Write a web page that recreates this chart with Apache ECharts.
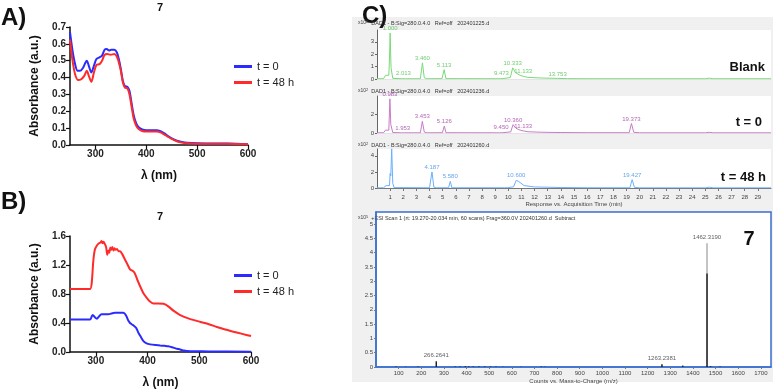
<!DOCTYPE html>
<html>
<head>
<meta charset="utf-8">
<script src="https://cdn.jsdelivr.net/npm/echarts@6/dist/echarts.min.js"></script>
<style>
  html, body { margin: 0; padding: 0; background: #fff; }
  #wrap { position: relative; width: 773px; height: 390px; }
  #panelC { position: absolute; left: 352px; top: 17px; width: 421px; height: 365px; background: #f0f0f0; }
  #main { position: absolute; left: 0; top: 0; width: 773px; height: 390px; }
</style>
</head>
<body>
<div id="wrap">
  <div id="panelC"></div>
  <div id="main"></div>
</div>
<script>
// ---- UV-Vis, panel A (wavelength nm, absorbance) ----
var uvA_t0 = [[250,0.67],[255,0.56],[260,0.48],[265,0.44],[270,0.44],[276,0.46],[283,0.50],[287,0.47],[292,0.43],[297,0.47],[302,0.51],[308,0.52],[313,0.53],[318,0.565],[322,0.57],[327,0.56],[331,0.565],[337,0.565],[342,0.55],[346,0.51],[350,0.45],[354,0.38],[358,0.35],[363,0.345],[367,0.32],[371,0.25],[375,0.18],[380,0.13],[385,0.105],[392,0.092],[400,0.088],[410,0.088],[420,0.088],[428,0.082],[435,0.07],[442,0.055],[450,0.04],[460,0.026],[470,0.018],[480,0.013],[500,0.01],[540,0.009],[560,0.009],[600,0.005]];
var uvA_t48 = [[250,0.625],[255,0.50],[260,0.42],[266,0.385],[272,0.39],[278,0.41],[283,0.44],[287,0.41],[292,0.375],[297,0.43],[302,0.475],[308,0.48],[313,0.5],[318,0.535],[323,0.54],[330,0.535],[337,0.54],[342,0.525],[346,0.49],[350,0.44],[354,0.37],[358,0.34],[363,0.335],[367,0.30],[371,0.23],[375,0.16],[380,0.115],[385,0.095],[392,0.083],[400,0.08],[410,0.08],[420,0.08],[428,0.075],[435,0.063],[442,0.05],[450,0.036],[460,0.022],[470,0.014],[480,0.01],[500,0.008],[560,0.007],[600,0.004]];

// ---- UV-Vis, panel B ----
var uvB_t0 = [[250,0.45],[270,0.45],[289,0.45],[292,0.49],[294,0.51],[298,0.48],[302,0.46],[306,0.49],[311,0.52],[318,0.52],[324,0.52],[330,0.53],[337,0.54],[345,0.54],[353,0.54],[357,0.52],[360,0.48],[363,0.43],[366,0.40],[370,0.38],[374,0.36],[378,0.33],[382,0.27],[386,0.22],[392,0.15],[398,0.12],[405,0.105],[415,0.095],[424,0.09],[433,0.085],[440,0.08],[450,0.06],[457,0.045],[463,0.035],[470,0.02],[476,0.014],[490,0.01],[520,0.008],[600,0.005]];
var uvB_t48 = [[250,0.87],[270,0.87],[289,0.87],[292,0.95],[295,1.25],[298,1.41],[302,1.47],[306,1.50],[309,1.51],[311,1.53],[313,1.50],[315,1.52],[318,1.48],[320,1.44],[322,1.34],[324,1.40],[326,1.37],[328,1.44],[330,1.41],[332,1.45],[334,1.40],[336,1.43],[338,1.41],[341,1.42],[344,1.39],[347,1.39],[351,1.35],[356,1.28],[361,1.21],[366,1.14],[371,1.12],[375,1.09],[380,1.00],[386,0.90],[392,0.81],[398,0.75],[404,0.70],[411,0.67],[420,0.67],[431,0.665],[440,0.63],[450,0.57],[463,0.51],[480,0.46],[502,0.415],[520,0.38],[534,0.345],[550,0.31],[566,0.28],[583,0.25],[600,0.22]];

// ---- HPLC chromatograms (time min, response x10^2) ----
var chromBlank = [[0,0.02],[0.5,0.03],[0.65,0.3],[0.8,0.22],[0.9,0.3],[0.95,1.6],[1.0,3.7],[1.07,0.9],[1.2,0.05],[1.9,0.02],[2.013,0.06],[2.15,0.02],[3.3,0.02],[3.46,1.3],[3.6,0.1],[3.8,0.02],[4.95,0.03],[5.113,0.75],[5.25,0.03],[9.35,0.02],[9.473,0.12],[9.6,0.03],[10.15,0.12],[10.333,0.9],[10.55,0.5],[10.9,0.3],[11.133,0.22],[11.5,0.13],[12.5,0.08],[13.753,0.05],[14.5,0.03],[16,0.02],[25,0.02],[25.3,0.07],[25.6,0.02],[30,0.02]];
var chromT0 = [[0,0.02],[0.5,0.03],[0.65,0.3],[0.8,0.22],[0.9,0.3],[0.93,1.5],[0.983,3.6],[1.05,0.9],[1.2,0.05],[1.85,0.02],[1.953,0.05],[2.1,0.02],[3.3,0.02],[3.453,1.23],[3.6,0.1],[3.8,0.02],[4.98,0.03],[5.126,0.74],[5.25,0.03],[9.33,0.02],[9.45,0.12],[9.58,0.03],[10.18,0.12],[10.36,0.88],[10.58,0.5],[10.9,0.3],[11.133,0.22],[11.5,0.13],[12.5,0.08],[14,0.05],[16,0.03],[19.2,0.03],[19.373,1.0],[19.55,0.08],[20,0.02],[25,0.02],[25.3,0.07],[25.6,0.02],[30,0.02]];
var chromT48 = [[0,0.02],[0.5,0.03],[0.7,0.3],[0.85,0.15],[0.95,0.3],[1.0,1.8],[1.05,1.5],[1.12,4.9],[1.2,0.6],[1.3,0.05],[4.0,0.03],[4.187,2.0],[4.33,0.1],[4.5,0.03],[5.45,0.03],[5.58,0.83],[5.7,0.03],[9.7,0.03],[9.8,0.12],[9.95,0.04],[10.4,0.15],[10.6,0.96],[10.8,0.8],[11.2,0.3],[12,0.13],[14,0.06],[16,0.03],[19.25,0.03],[19.427,1.04],[19.6,0.08],[20,0.02],[25,0.02],[25.3,0.1],[25.6,0.02],[30,0.02]];

var peaksBlankT = [1.000, 2.013, 3.460, 5.113, 9.473, 10.333, 11.133, 13.753];
var peaksBlankH = [3.7, 0.06, 1.3, 0.75, 0.12, 0.9, 0.22, 0.05];
var peaksT0T = [0.983, 1.953, 3.453, 5.126, 9.450, 10.360, 11.133, 19.373];
var peaksT0H = [3.6, 0.05, 1.23, 0.74, 0.12, 0.88, 0.22, 1.0];
var peaksT48T = [1.120, 4.187, 5.580, 10.600, 19.427];
var peaksT48H = [4.9, 2.0, 0.83, 0.96, 1.04];

// ---- ESI mass spectrum (m/z, counts x10^5) ----
var msMz = [88, 130, 185, 266.2641, 350, 372, 395, 410, 430, 455, 480, 505, 530, 560, 640, 730, 745, 1263.2381, 1355, 1462.3190, 1478, 1520];
var msInt = [0.02, 0.01, 0.02, 0.2, 0.02, 0.02, 0.03, 0.02, 0.02, 0.02, 0.02, 0.02, 0.02, 0.01, 0.01, 0.02, 0.01, 0.1, 0.05, 4.33, 0.03, 0.02];
var msLabelMz = [266.2641, 1263.2381, 1462.3190];
var msLabelInt = [0.2, 0.1, 4.33];

var FONT = 'Liberation Sans, Arial, sans-serif';
var BLUE = '#2b2bff', RED = '#ff2b2b';
var GREEN = '#79d979', GREEN_T = '#4cbf4c';
var PURPLE = '#c77cc7', PURPLE_T = '#a040a0';
var LBLUE = '#6ab0ff', LBLUE_T = '#3d8fe6';

function pairs(xs, ys) { return xs.map(function (x, i) { return [x, ys[i]]; }); }

var myChart = echarts.init(document.getElementById('main'));

// UV panel axes
function uvX(grid) {
  return {
    type: 'value', gridIndex: grid, min: 250, max: 600,
    name: 'λ (nm)', nameLocation: 'middle', nameGap: 25,
    nameTextStyle: { fontWeight: 'bold', fontSize: 12, color: '#111' },
    axisLine: { lineStyle: { color: '#111', width: 1.5 } },
    axisTick: { show: true, length: 4, lineStyle: { color: '#111', width: 1.2 }, customValues: [300, 400, 500, 600] },
    axisLabel: { fontWeight: 'bold', fontSize: 10, color: '#222', margin: 4, customValues: [300, 400, 500, 600] },
    splitLine: { show: false }
  };
}
function uvY(grid, max, interval) {
  return {
    type: 'value', gridIndex: grid, min: 0, max: max, interval: interval,
    name: 'Absorbance (a.u.)', nameLocation: 'middle', nameGap: 29, nameRotate: 90,
    nameTextStyle: { fontWeight: 'bold', fontSize: 12, color: '#111' },
    axisLine: { show: true, lineStyle: { color: '#111', width: 1.5 } },
    axisTick: { show: true, length: 4, lineStyle: { color: '#111', width: 1.2 } },
    axisLabel: { fontWeight: 'bold', fontSize: 10, color: '#222', margin: 4,
      formatter: function (v) { return v.toFixed(1); } },
    splitLine: { show: false }
  };
}
// chromatogram axes
function chromX(grid, labels) {
  return {
    type: 'value', gridIndex: grid, min: 0, max: 30, interval: 1,
    name: labels ? 'Response vs. Acquisition Time (min)' : '', nameLocation: 'middle', nameGap: 13,
    nameTextStyle: { fontSize: 6, color: '#444' },
    axisLine: { show: true, lineStyle: { color: labels ? '#777' : '#e4e4e4', width: 1 } },
    axisTick: { show: labels, length: 3, lineStyle: { color: '#777' } },
    axisLabel: { show: labels, fontSize: 6, color: '#444', margin: 6, showMinLabel: false, showMaxLabel: false },
    splitLine: { show: false }
  };
}
function chromY(grid, max, interval) {
  return {
    type: 'value', gridIndex: grid, min: 0, max: max, interval: interval,
    axisLine: { show: true, lineStyle: { color: '#666', width: 1 } },
    axisTick: { show: true, length: 2, lineStyle: { color: '#666' } },
    axisLabel: { fontSize: 6, color: '#444', margin: 3, showMaxLabel: false },
    splitLine: { show: false }
  };
}

function chromSeries(idx, data, color) {
  return {
    type: 'line', xAxisIndex: idx, yAxisIndex: idx, data: data,
    showSymbol: false, silent: true, lineStyle: { color: color, width: 1 }
  };
}
function peakLabels(idx, ts, hs, color) {
  return {
    type: 'scatter', xAxisIndex: idx, yAxisIndex: idx, data: pairs(ts, hs),
    symbolSize: 1, itemStyle: { color: 'rgba(0,0,0,0)' }, silent: true,
    label: { show: true, position: 'top', distance: 1, fontSize: 6, color: color,
      formatter: function (p) { return p.value[0].toFixed(3); } }
  };
}

// text placed by anchor point (x, y = vertical middle)
function txt(x, y, s, size, weight, color, align) {
  return { type: 'text', x: x, y: y, silent: true,
    style: { text: s, fontSize: size, fontWeight: weight || 'normal', fill: color || '#111',
      fontFamily: FONT, align: align || 'left', verticalAlign: 'middle' } };
}
function hdr(y, s, exp) {
  return { type: 'text', x: 358, y: y, silent: true,
    style: { text: '{a|x10}{b|' + exp + '}  ' + s, fontFamily: FONT, verticalAlign: 'middle',
      rich: { a: { fontSize: 5, fill: '#444', fontFamily: FONT }, b: { fontSize: 4, fill: '#444', verticalAlign: 'top', fontFamily: FONT } },
      fill: '#333', fontSize: 5.5 } };
}

var msColor = new echarts.graphic.LinearGradient(0, 0, 0, 1, [
  { offset: 0, color: '#b0b0b0' }, { offset: 0.24, color: '#b0b0b0' },
  { offset: 0.25, color: '#111' }, { offset: 1, color: '#111' }
]);

var option = {
  animation: false,
  textStyle: { fontFamily: FONT },
  grid: [
    { left: 70, top: 27, width: 178, height: 118 },
    { left: 70, top: 236, width: 181, height: 121 },
    { left: 377, top: 30, width: 394, height: 49, show: true, backgroundColor: '#fff', borderWidth: 0 },
    { left: 377, top: 96, width: 394, height: 37, show: true, backgroundColor: '#fff', borderWidth: 0 },
    { left: 377, top: 149, width: 394, height: 39, show: true, backgroundColor: '#fff', borderWidth: 0 },
    { left: 376, top: 212, width: 395, height: 155, show: true, backgroundColor: '#fff', borderColor: '#3a6fd0', borderWidth: 1.5 }
  ],
  xAxis: [
    uvX(0), uvX(1),
    chromX(2, false), chromX(3, false), chromX(4, true),
    {
      type: 'value', gridIndex: 5, min: 0, max: 1745, interval: 100,
      name: 'Counts vs. Mass-to-Charge (m/z)', nameLocation: 'middle', nameGap: 11,
      nameTextStyle: { fontSize: 6, color: '#444' },
      axisLine: { lineStyle: { color: '#3a6fd0', width: 1.5 } },
      axisTick: { length: 2, lineStyle: { color: '#777' } },
      axisLabel: { fontSize: 6, color: '#444', margin: 3, showMinLabel: false, showMaxLabel: false,
        formatter: function (v) { return String(v); } },
      splitLine: { show: false }
    }
  ],
  yAxis: [
    uvY(0, 0.7, 0.1), uvY(1, 1.6, 0.4),
    chromY(2, 3.95, 1), chromY(3, 3.9, 2), chromY(4, 4.85, 2),
    {
      type: 'value', gridIndex: 5, min: 0, max: 5.42, interval: 0.5,
      axisLine: { show: true, lineStyle: { color: '#3a6fd0', width: 1.5 } },
      axisTick: { show: true, length: 2, lineStyle: { color: '#777' } },
      axisLabel: { fontSize: 6, color: '#444', margin: 3, showMaxLabel: false },
      splitLine: { show: false }
    }
  ],
  legend: [
    { left: 229, top: 56, orient: 'vertical', itemWidth: 18, itemHeight: 3, itemGap: 5, icon: 'rect',
      data: ['t = 0', 't = 48 h'], textStyle: { fontSize: 11, color: '#222', fontFamily: FONT } },
    { left: 229, top: 265, orient: 'vertical', itemWidth: 18, itemHeight: 3, itemGap: 5, icon: 'rect',
      data: ['t = 0', 't = 48 h'], textStyle: { fontSize: 11, color: '#222', fontFamily: FONT } }
  ],
  series: [
    { name: 't = 0', type: 'line', xAxisIndex: 0, yAxisIndex: 0, data: uvA_t0, smooth: 0.3, showSymbol: false, color: BLUE, lineStyle: { width: 2 } },
    { name: 't = 48 h', type: 'line', xAxisIndex: 0, yAxisIndex: 0, data: uvA_t48, smooth: 0.3, showSymbol: false, color: RED, lineStyle: { width: 2 } },
    { name: 't = 0', type: 'line', xAxisIndex: 1, yAxisIndex: 1, data: uvB_t0, smooth: 0.3, showSymbol: false, color: BLUE, lineStyle: { width: 2 } },
    { name: 't = 48 h', type: 'line', xAxisIndex: 1, yAxisIndex: 1, data: uvB_t48, smooth: 0.2, showSymbol: false, color: RED, lineStyle: { width: 2 } },
    chromSeries(2, chromBlank, GREEN),
    chromSeries(3, chromT0, PURPLE),
    chromSeries(4, chromT48, LBLUE),
    peakLabels(2, peaksBlankT, peaksBlankH, GREEN_T),
    peakLabels(3, peaksT0T, peaksT0H, PURPLE_T),
    peakLabels(4, peaksT48T, peaksT48H, LBLUE_T),
    {
      type: 'bar', xAxisIndex: 5, yAxisIndex: 5, data: pairs(msMz, msInt), barWidth: 1.5, silent: true,
      itemStyle: { color: function (p) { return p.value[1] > 1 ? msColor : '#222'; } }
    },
    {
      type: 'scatter', xAxisIndex: 5, yAxisIndex: 5, data: pairs(msLabelMz, msLabelInt),
      symbolSize: 1, itemStyle: { color: 'rgba(0,0,0,0)' }, silent: true,
      label: { show: true, position: 'top', distance: 2, fontSize: 6, color: '#333',
        formatter: function (p) { return p.value[0].toFixed(4); } }
    }
  ],
  graphic: [
    txt(1, 18, 'A)', 24, 'bold'),
    txt(160, 8, '7', 11, 'bold', '#111', 'center'),
    txt(1, 202, 'B)', 24, 'bold'),
    txt(160, 217, '7', 11, 'bold', '#111', 'center'),
    txt(362, 16, 'C)', 24, 'bold'),
    hdr(23, 'DAD1 - B:Sig=280.0.4.0   Ref=off   202401225.d', '2'),
    hdr(91, 'DAD1 - B:Sig=280.0.4.0   Ref=off   202401236.d', '2'),
    hdr(145, 'DAD1 - B:Sig=280.0.4.0   Ref=off   202401260.d', '2'),
    hdr(218, '+ESI Scan 1 (rt: 19.270-20.034 min, 60 scans) Frag=360.0V 202401260.d  Subtract', '5'),
    txt(765, 67, 'Blank', 13, 'bold', '#111', 'right'),
    txt(762, 122, 't = 0', 13, 'bold', '#111', 'right'),
    txt(766, 177, 't = 48 h', 13, 'bold', '#111', 'right'),
    txt(749, 239, '7', 20, 'bold', '#111', 'center')
  ]
};

myChart.setOption(option);
</script>
</body>
</html>
